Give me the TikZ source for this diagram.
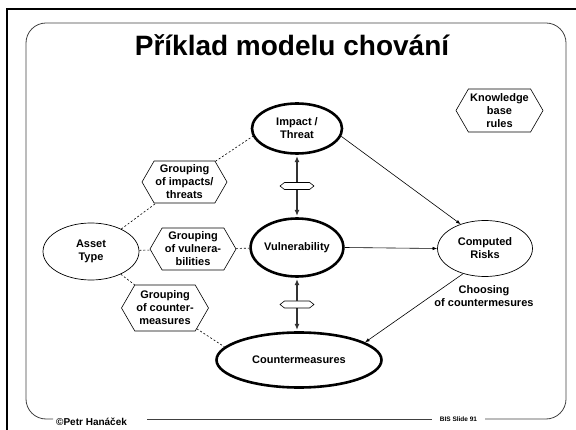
\documentclass[tikz,border=0pt]{standalone}
\usepackage{fontspec}
\setmainfont{Liberation Sans}
\usetikzlibrary{shapes.geometric,shapes.symbols,arrows.meta,calc}

\begin{document}
\begin{tikzpicture}[x=1pt,y=-1pt,
  every node/.style={font=\bfseries\fontsize{11}{13}\selectfont, align=center, inner sep=0pt},
  mainell/.style={ellipse, draw, line width=2.6pt},
  thinell/.style={ellipse, draw, line width=0.7pt},
  hexbox/.style={signal, signal to=east and west, signal pointer angle=120,
    draw, line width=0.6pt, fill=white},
  tinyhex/.style={signal, signal to=east and west, signal pointer angle=76,
    draw, line width=0.6pt, fill=white, minimum width=34pt, minimum height=7pt},
  link/.style={dash pattern=on 2pt off 2pt, line width=0.6pt},
  flow/.style={-{Latex[length=4.5pt,width=3.5pt]}, line width=0.6pt},
  bond/.style={{Latex[length=6pt,width=5pt]}-{Latex[length=6pt,width=5pt]},
    line width=1.8pt, black!80},
  frame/.style={line width=0.8pt, black!75}]

\useasboundingbox (0,0) rectangle (576,430);

% slide border and rounded content frame
\draw[line width=2pt] (7,432) -- (7,9) -- (578,9);
\draw[frame, rounded corners=20pt] (53,419) -- (26,419) -- (26,23) -- (566,23) -- (566,419) -- (485,419);
\draw[frame] (147,419) -- (432,419);

% title
\node[font=\bfseries\fontsize{28}{32}\selectfont] (title) at (292,45.5) {Příklad modelu chování};

% main entities
\node[mainell, minimum width=90pt, minimum height=50pt] (impact) at (297,128.5) {Impact /\\Threat};
\node[mainell, minimum width=87pt, minimum height=58pt] (vuln) at (297,247.5) {Vulnerability};
\node[mainell, minimum width=165pt, minimum height=55pt] (counter) at (299,360) {Countermeasures};
\node[thinell, minimum width=96pt, minimum height=57pt] (asset) at (91,251.5) {Asset\\Type};
\node[thinell, minimum width=95pt, minimum height=56pt] (risks) at (485,248.5) {Computed\\Risks};

% grouping rules
\node[hexbox, minimum width=87pt, minimum height=43pt] (kb) at (499.5,110.5) {Knowledge\\base\\rules};
\node[hexbox, minimum width=85pt, minimum height=42pt] (gimp) at (184.5,182) {Grouping\\of impacts/\\threats};
\node[hexbox, minimum width=86pt, minimum height=42pt] (gvul) at (193,249) {Grouping\\of vulnera-\\bilities};
\node[hexbox, minimum width=87pt, minimum height=46pt] (gcnt) at (165,308) {Grouping\\of counter-\\measures};

\node (choose) at (484,296.5) {Choosing\\of countermesures};

% dashed grouping links
\draw[link] (asset) -- (gimp);
\draw[link] (gimp) -- (impact.190);
\draw[link] (asset) -- (gvul);
\draw[link] (gvul) -- (vuln);
\draw[link] (asset) -- (gcnt);
\draw[link] (gcnt) -- (counter.170);

% risk computation flow
\draw[flow] (impact.-10) -- (risks.135);
\draw[flow] (vuln.east) -- (risks.west);
\draw[flow] (risks.-131) -- (counter.15);

% two-way bonds with their connectors
\draw[bond, shorten <=1.3pt, shorten >=1.3pt] (impact.south) -- (vuln.north);
\draw[bond, shorten <=1.3pt, shorten >=1.3pt] (vuln.south) -- (vuln.south |- counter.north);
\node[tinyhex] (lnk1) at ($(impact.south)!0.5!(vuln.north)$) {};
\node[tinyhex] (lnk2) at ($(vuln.south)!0.5!(vuln.south |- counter.north)$) {};

% footer
\node[font=\bfseries\fontsize{10}{12}\selectfont, anchor=west] (author) at (56,422) {©Petr Hanáček};
\node[font=\bfseries\fontsize{6.5}{8}\selectfont] (slide) at (458.5,419) {BIS Slide 91};
\end{tikzpicture}
\end{document}
